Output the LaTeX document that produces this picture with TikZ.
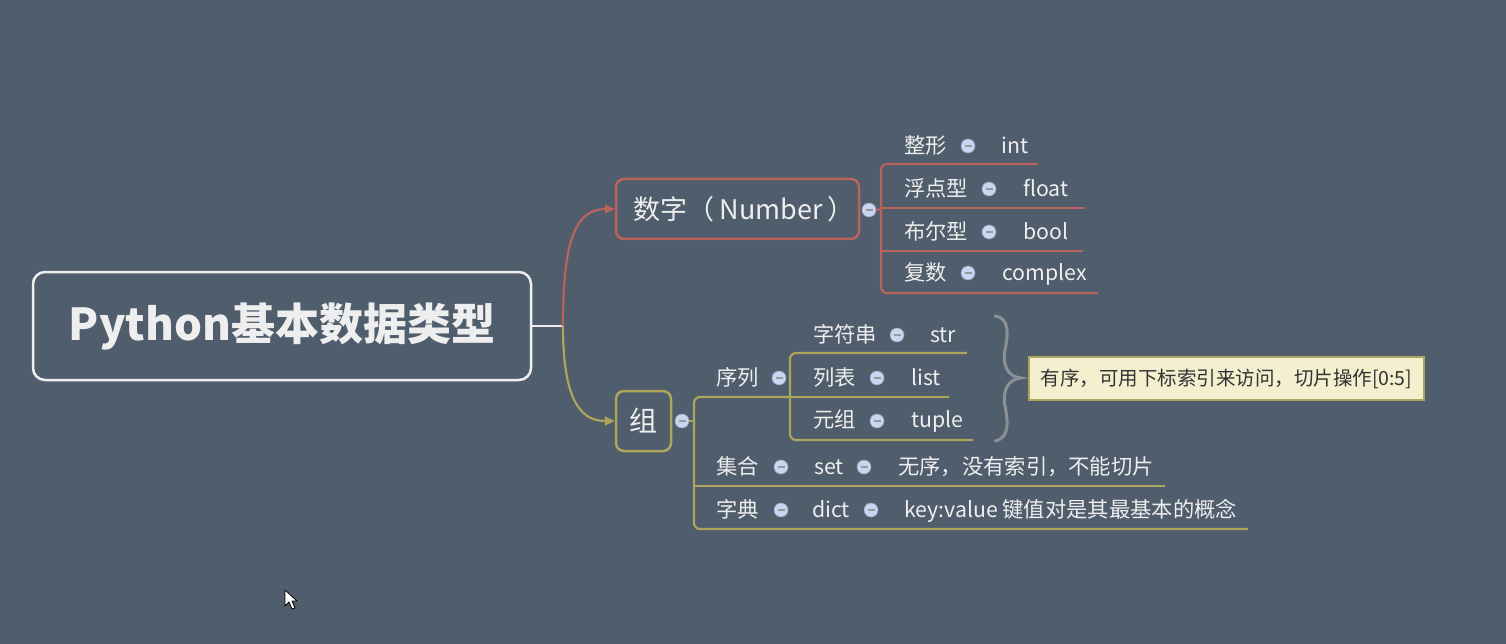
\documentclass[tikz,border=0pt]{standalone}
\usepackage{fontspec}
\setmainfont{Noto Sans CJK SC}
\usetikzlibrary{arrows.meta}
\definecolor{bg}{HTML}{4F5D6C}
\definecolor{redl}{HTML}{B8645C}
\definecolor{yell}{HTML}{ADA55B}
\definecolor{txt}{HTML}{EEEEEE}
\definecolor{bub}{HTML}{C8D6F2}
\definecolor{notefill}{HTML}{F3EFCF}
\definecolor{notetxt}{HTML}{333333}
\definecolor{bracec}{HTML}{8C9096}
\begin{document}
\begin{tikzpicture}[x=1pt,y=-1pt,
  lbl/.style={text=txt, font=\fontsize{21.3}{21.3}\selectfont, inner sep=0pt, anchor=base west},
  dot/.style={circle, fill=bub, draw=bub!75!black, line width=0.6pt, minimum size=14pt, inner sep=0pt,
    path picture={\draw[gray!80, line width=1.1pt] ([xshift=-3.5pt]path picture bounding box.center) -- ([xshift=3.5pt]path picture bounding box.center);}},
  rline/.style={redl, line width=2.2pt, rounded corners=6pt},
  yline/.style={yell, line width=2.2pt, rounded corners=6pt},
  tip/.style={-{Triangle[length=10pt,width=9pt]}},
]
\fill[bg] (0,0) rectangle (1506,644);
\useasboundingbox (0,0) rectangle (1506,644);

% root
\node[draw=txt, line width=2.5pt, rounded corners=12pt, minimum width=498pt, minimum height=108pt,
  text=txt, font=\bfseries\fontsize{44}{44}\selectfont] (root) at (282,326) {Python基本数据类型};
\coordinate (j) at (563,326);
\draw[txt, line width=2.5pt] (root.east) -- (j);

% number
\node[draw=redl, line width=2.5pt, rounded corners=8pt, minimum width=243pt, minimum height=60pt,
  text=txt, font=\fontsize{27}{27}\selectfont] (num) at (737.5,209) {\hspace{13pt}数字（\hspace{5pt}Number\hspace{5pt}）};
\draw[redl, line width=2.2pt, tip] (j) .. controls (563,250) and (572,209) .. (num.west);

% group
\node[draw=yell, line width=2.5pt, rounded corners=8pt, minimum width=55pt, minimum height=60pt,
  text=txt, font=\fontsize{28}{28}\selectfont] (grp) at (643.5,421) {组};
\draw[yell, line width=2.2pt, tip] (j) .. controls (563,395) and (578,421) .. (grp.west);

% number children
\node[dot] (dn) at (869,210) {};
\coordinate (nb1) at (1038,164);
\coordinate (nb2) at (1085,208);
\coordinate (nb3) at (1083,251);
\coordinate (nb4) at (1098,293);
\draw[rline] (dn.east) -- (881,209);
\draw[rline] (nb1) -- (881,164) -- (881,293) -- (nb4);
\draw[redl, line width=2.2pt] (881,208) -- (nb2);
\draw[redl, line width=2.2pt] (881,251) -- (nb3);

\node[lbl] (a1) at (904,153.5) {整形};
\node[dot] (a1d) at (968,146) {};
\node[lbl] (a1v) at (1001,153.5) {int};
\node[lbl] (a2) at (904,196.5) {浮点型};
\node[dot] (a2d) at (989,189) {};
\node[lbl] (a2v) at (1023,196.5) {float};
\node[lbl] (a3) at (904,239.5) {布尔型};
\node[dot] (a3d) at (989,232) {};
\node[lbl] (a3v) at (1023,239.5) {bool};
\node[lbl] (a4) at (904,280.5) {复数};
\node[dot] (a4d) at (968,273) {};
\node[lbl] (a4v) at (1002,280.5) {complex};

% group children
\node[dot] (dg) at (682,421) {};
\draw[yline] (dg.east) -- (694,421);
\coordinate (gb3) at (1165,486);
\coordinate (gb4) at (1248,529);
\draw[yline] (790,397) -- (694,397) -- (694,529) -- (gb4);
\draw[yell, line width=2.2pt] (694,486) -- (gb3);

\node[lbl] (s) at (716,385.5) {序列};
\node[dot] (sd) at (779,378) {};
\coordinate (sb1) at (967,353);
\coordinate (sb2) at (949,397);
\coordinate (sb3) at (973,440);
\draw[yline] (sb1) -- (790,353) -- (790,440) -- (sb3);
\draw[yell, line width=2.2pt] (790,397) -- (sb2);

\node[lbl] (b1) at (813,342.5) {字符串};
\node[dot] (b1d) at (897,335) {};
\node[lbl] (b1v) at (930,342.5) {str};
\node[lbl] (b2) at (813,385.5) {列表};
\node[dot] (b2d) at (877,378) {};
\node[lbl] (b2v) at (911,385.5) {list};
\node[lbl] (b3) at (813,427.5) {元组};
\node[dot] (b3d) at (877,421) {};
\node[lbl] (b3v) at (911,427.5) {tuple};

\node[lbl] (c1) at (716,474.5) {集合};
\node[dot] (c1d) at (781,467) {};
\node[lbl] (c1v) at (814,474.5) {set};
\node[dot] (c1e) at (864,467) {};
\node[lbl] (c1n) at (898,474.5) {无序，没有索引，不能切片};

\node[lbl] (c2) at (716,517.5) {字典};
\node[dot] (c2d) at (781,510) {};
\node[lbl] (c2v) at (812,517.5) {dict};
\node[dot] (c2e) at (871,510) {};
\node[lbl] (c2n) at (904,517.5) {key:value 键值对是其最基本的概念};

% brace
\draw[bracec, line width=3pt, line cap=round]
  (995,316) .. controls (1010,318) and (1008,335) .. (1005,350)
  .. controls (1002,365) and (1008,377) .. (1021,378)
  .. controls (1008,379) and (1002,391) .. (1005,406)
  .. controls (1008,421) and (1010,438) .. (995,441);

% note
\node[draw=yell, fill=notefill, line width=2pt, minimum width=395pt, minimum height=43pt,
  text=notetxt, font=\fontsize{19.5}{19.5}\selectfont] (note) at (1226.5,378.5) {有序，可用下标索引来访问，切片操作[0:5]};

% cursor
\filldraw[fill=white, draw=black, line width=0.8pt, line join=round]
  (285,590) -- (285,606) -- (289,602) -- (292,609) -- (295,608) -- (292,601) -- (297,601) -- cycle;
\end{tikzpicture}
\end{document}
